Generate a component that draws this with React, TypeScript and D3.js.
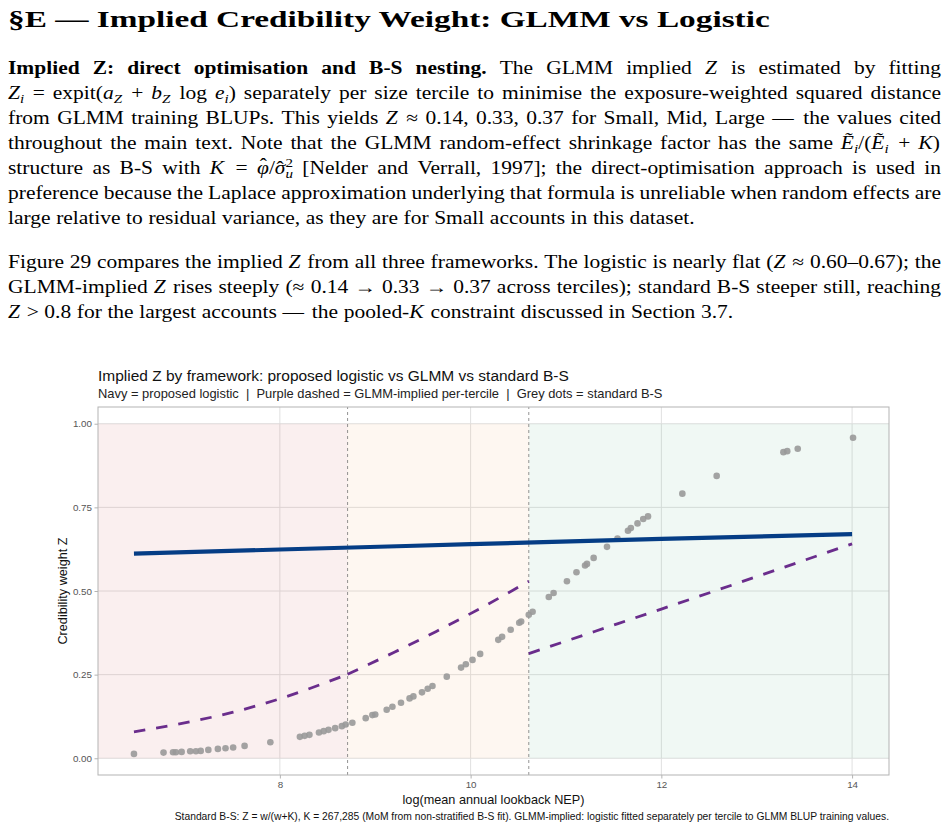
import React, { useRef, useEffect } from 'react';
import * as d3 from 'd3';

const W = 949;
const H = 828;
const SERIF = '"Liberation Serif", "DejaVu Serif", serif';
const SANS = '"Liberation Sans", Arial, sans-serif';

// document text, one string per printed line ({i:..} italic, {b:..} bold, {sub:..}/{sup:..} scripts, {hat:..} accent)
const heading = '§E — Implied Credibility Weight: GLMM vs Logistic';
const para1 = [
  '{b:Implied} {b:Z:} {b:direct} {b:optimisation} {b:and} {b:B-S} {b:nesting.} The GLMM implied {i:Z} is estimated by fitting',
  '{i:Z}{sub:i} = expit({i:a}{sub:Z} + {i:b}{sub:Z} log {i:e}{sub:i}) separately per size tercile to minimise the exposure-weighted squared distance',
  'from GLMM training BLUPs. This yields {i:Z} ≈ 0.14, 0.33, 0.37 for Small, Mid, Large — the values cited',
  'throughout the main text. Note that the GLMM random-effect shrinkage factor has the same {i:Ẽ}{sub:i}/({i:Ẽ}{sub:i} + {i:K})',
  'structure as B-S with {i:K} = {i:φ}{hatT:ˆ}/{i:σ}{hat:ˆ}{sup:2}{subb:u} [Nelder and Verrall, 1997]; the direct-optimisation approach is used in',
  'preference because the Laplace approximation underlying that formula is unreliable when random effects are',
  'large relative to residual variance, as they are for Small accounts in this dataset.',
];
const para2 = [
  'Figure 29 compares the implied {i:Z} from all three frameworks. The logistic is nearly flat ({i:Z} ≈ 0.60–0.67); the',
  'GLMM-implied {i:Z} rises steeply (≈ 0.14 → 0.33 → 0.37 across terciles); standard B-S steeper still, reaching',
  '{i:Z} > 0.8 for the largest accounts — the pooled-{i:K} constraint discussed in Section 3.7.',
];

// chart labels
const chartTitle = 'Implied Z by framework: proposed logistic vs GLMM vs standard B-S';
const chartSubtitle = 'Navy = proposed logistic\u00a0\u00a0|\u00a0\u00a0Purple dashed = GLMM-implied per-tercile\u00a0\u00a0|\u00a0\u00a0Grey dots = standard B-S';
const xTitle = 'log(mean annual lookback NEP)';
const yTitle = 'Credibility weight Z';
const caption = 'Standard B-S: Z = w/(w+K), K = 267,285 (MoM from non-stratified B-S fit). GLMM-implied: logistic fitted separately per tercile to GLMM BLUP training values.';
const xTicks = [8, 10, 12, 14];
const yTicks = [0, 0.25, 0.5, 0.75, 1];

// tercile cut points on log NEP
const tercileCuts = [8.71, 10.61];
const tercileFills = ['rgba(200,80,80,0.09)', 'rgba(240,150,80,0.08)', 'rgba(60,160,110,0.08)'];

// standard B-S implied Z (grey dots)
const bsX = [6.47, 6.78, 6.88, 6.91, 6.97, 7.06, 7.12, 7.17, 7.25, 7.35, 7.43, 7.51, 7.63, 7.9, 8.21, 8.26, 8.31, 8.41, 8.46, 8.51, 8.58, 8.65, 8.69, 8.76, 8.9, 8.97, 9.0, 9.12, 9.18, 9.27, 9.36, 9.4, 9.49, 9.55, 9.6, 9.75, 9.9, 9.95, 10.02, 10.1, 10.29, 10.33, 10.42, 10.51, 10.53, 10.61, 10.65, 10.82, 10.87, 11.01, 11.11, 11.2, 11.22, 11.29, 11.43, 11.54, 11.65, 11.68, 11.75, 11.81, 11.86, 12.22, 12.58, 13.28, 13.32, 13.43, 14.01];
const bsZ = [0.013, 0.017, 0.018, 0.018, 0.019, 0.021, 0.021, 0.022, 0.025, 0.028, 0.03, 0.032, 0.037, 0.048, 0.064, 0.067, 0.07, 0.077, 0.081, 0.085, 0.09, 0.096, 0.101, 0.106, 0.12, 0.129, 0.131, 0.145, 0.154, 0.166, 0.179, 0.185, 0.197, 0.208, 0.216, 0.244, 0.271, 0.281, 0.294, 0.312, 0.354, 0.363, 0.384, 0.405, 0.409, 0.429, 0.438, 0.482, 0.494, 0.529, 0.556, 0.576, 0.581, 0.599, 0.632, 0.657, 0.68, 0.688, 0.702, 0.715, 0.723, 0.791, 0.844, 0.915, 0.918, 0.925, 0.958];

// proposed logistic (navy)
const logitX = [6.47, 8, 10, 12, 14];
const logitZ = [0.612, 0.624, 0.64, 0.656, 0.67];

// GLMM-implied, one curve per tercile (purple dashed)
const glmmSmallX = [6.47, 7.0, 7.5, 8.0, 8.71];
const glmmSmallZ = [0.079, 0.106, 0.137, 0.178, 0.251];
const glmmMidX = [8.71, 9.2, 9.64, 10.1, 10.61];
const glmmMidZ = [0.251, 0.317, 0.379, 0.448, 0.529];
const glmmLargeX = [10.61, 11.3, 12.0, 13.0, 14.0];
const glmmLargeZ = [0.313, 0.379, 0.446, 0.543, 0.641];

const parseWord = (w: string) => {
  const segs: { t: string; k: string }[] = [];
  const re = /\{(\w+):([^}]*)\}|([^{]+)/g;
  let m: RegExpExecArray | null;
  while ((m = re.exec(w))) {
    if (m[3] !== undefined) segs.push({ t: m[3], k: 'r' });
    else segs.push({ t: m[2], k: m[1] });
  }
  return segs;
};

const App = () => {
  const ref = useRef<SVGSVGElement>(null);

  useEffect(() => {
    const svg = d3.select(ref.current);
    svg.selectAll('*').remove();

    // ---------- document text ----------
    const fs = 18;
    const left = 8;
    const right = 941;

    const head = svg.append('text')
      .attr('font-family', SERIF)
      .attr('font-weight', 'bold')
      .attr('font-size', 24)
      .attr('fill', '#000')
      .text(heading);
    const hw = (head.node() as SVGTextElement).getComputedTextLength();
    head.attr('transform', `translate(${left},27) scale(${762 / hw},1)`);

    const drawWord = (g: any, word: string) => {
      const t = g.append('text').attr('font-family', SERIF).attr('font-size', fs).attr('fill', '#000');
      let afterHat = false;
      parseWord(word).forEach(s => {
        const sp = t.append('tspan').text(s.t);
        if (afterHat) { sp.attr('dx', fs * 0.09); afterHat = false; }
        if (s.k === 'i') sp.attr('font-style', 'italic').attr('y', 0);
        else if (s.k === 'b') sp.attr('font-weight', 'bold').attr('y', 0);
        else if (s.k === 'hat' || s.k === 'hatT') {
          sp.attr('dx', -fs * 0.42).attr('y', s.k === 'hatT' ? -fs * 0.14 : -fs * 0.02);
          afterHat = true;
        } else if (s.k === 'sub' || s.k === 'subb') {
          sp.attr('font-style', 'italic').attr('font-size', fs * 0.7).attr('y', fs * 0.24);
          if (s.k === 'subb') sp.attr('dx', -fs * 0.35);
        } else if (s.k === 'sup') sp.attr('font-size', fs * 0.7).attr('y', -fs * 0.38);
        else sp.attr('y', 0);
      });
      return t;
    };

    const blocks = [
      { lines: para1, top: 74 },
      { lines: para2, top: 268 },
    ];
    const laid = blocks.flatMap(b => b.lines.map((line, i) => {
      const g = svg.append('g');
      const nodes = line.split(' ').map(w => drawWord(g, w));
      const widths = nodes.map(n => (n.node() as SVGTextElement).getBBox().width);
      return { nodes, widths, base: b.top + i * 25, last: i === b.lines.length - 1 };
    }));

    // horizontal stretch: the tightest justified line gets natural spaces
    const natGap = fs * 0.28;
    const k = d3.min(laid.filter(l => !l.last), l =>
      (right - left - natGap * (l.widths.length - 1)) / d3.sum(l.widths)) as number;

    laid.forEach(l => {
      const total = d3.sum(l.widths) * k;
      const gap = l.last ? natGap * 1.1 : (right - left - total) / (l.widths.length - 1);
      let x = left;
      l.nodes.forEach((n, i) => {
        n.attr('transform', `translate(${x},${l.base}) scale(${k},1)`);
        x += l.widths[i] * k + gap;
      });
    });

    // ---------- chart ----------
    const x = d3.scaleLinear().domain([6.093, 14.387]).range([98, 889]);
    const y = d3.scaleLinear().domain([-0.05, 1.05]).range([775, 407]);
    const [x0, x1] = x.domain();

    const fitText = (sel: any, target: number) => {
      const w = (sel.node() as SVGTextElement).getComputedTextLength();
      const size = +sel.attr('font-size');
      sel.attr('font-size', (size * target) / w);
    };

    const chart = svg.append('g');
    chart.append('rect')
      .attr('x', x(x0)).attr('y', y(1.05))
      .attr('width', x(x1) - x(x0)).attr('height', y(-0.05) - y(1.05))
      .attr('fill', '#fff');

    chart.append('g').selectAll('line.gy')
      .data(yTicks)
      .join('line')
      .attr('x1', x(x0)).attr('x2', x(x1))
      .attr('y1', d => y(d)).attr('y2', d => y(d))
      .attr('stroke', '#e0e0e0').attr('stroke-width', 1);
    chart.append('g').selectAll('line.gx')
      .data(xTicks)
      .join('line')
      .attr('x1', d => x(d)).attr('x2', d => x(d))
      .attr('y1', y(-0.05)).attr('y2', y(1.05))
      .attr('stroke', '#e0e0e0').attr('stroke-width', 1);

    const bounds = [x0, ...tercileCuts, x1];
    chart.append('g').selectAll('rect')
      .data(tercileFills)
      .join('rect')
      .attr('x', (d, i) => x(bounds[i]))
      .attr('width', (d, i) => x(bounds[i + 1]) - x(bounds[i]))
      .attr('y', y(1))
      .attr('height', y(0) - y(1))
      .attr('fill', d => d);

    chart.append('g').selectAll('line')
      .data(tercileCuts)
      .join('line')
      .attr('x1', d => x(d)).attr('x2', d => x(d))
      .attr('y1', y(-0.05)).attr('y2', y(1.05))
      .attr('stroke', '#777').attr('stroke-width', 0.8)
      .attr('stroke-dasharray', '3,3');

    chart.append('g').selectAll('circle')
      .data(bsX)
      .join('circle')
      .attr('cx', d => x(d))
      .attr('cy', (d, i) => y(bsZ[i]))
      .attr('r', 3.3)
      .attr('fill', '#999')
      .attr('fill-opacity', 0.9);

    const lineGen = d3.line<number>()
      .curve(d3.curveMonotoneX);

    const glmm = [
      [glmmSmallX, glmmSmallZ],
      [glmmMidX, glmmMidZ],
      [glmmLargeX, glmmLargeZ],
    ];
    chart.append('g').selectAll('path')
      .data(glmm)
      .join('path')
      .attr('d', ([xs, zs]) => lineGen.x(d => x(d)).y((d, i) => y(zs[i]))(xs))
      .attr('fill', 'none')
      .attr('stroke', '#6a2d8c')
      .attr('stroke-width', 2.8)
      .attr('stroke-dasharray', '11.5,11');

    chart.append('path')
      .attr('d', lineGen.x(d => x(d)).y((d, i) => y(logitZ[i]))(logitX))
      .attr('fill', 'none')
      .attr('stroke', '#053d85')
      .attr('stroke-width', 4.2);

    chart.append('rect')
      .attr('x', x(x0)).attr('y', y(1.05))
      .attr('width', x(x1) - x(x0)).attr('height', y(-0.05) - y(1.05))
      .attr('fill', 'none').attr('stroke', '#b3b3b3').attr('stroke-width', 1);

    // axes
    const yAxis = chart.append('g').attr('transform', `translate(${x(x0)},0)`)
      .call(d3.axisLeft(y).tickValues(yTicks).tickFormat(d3.format('.2f')).tickSize(3.5).tickPadding(2.5));
    const xAxis = chart.append('g').attr('transform', `translate(0,${y(-0.05)})`)
      .call(d3.axisBottom(x).tickValues(xTicks).tickFormat(d3.format('d')).tickSize(3.5).tickPadding(3));
    [yAxis, xAxis].forEach(a => {
      a.select('.domain').remove();
      a.selectAll('line').attr('stroke', '#b3b3b3');
      a.selectAll('text').attr('font-family', SANS).attr('font-size', 9.8).attr('fill', '#555');
    });

    const t1 = chart.append('text').attr('x', 98).attr('y', 375)
      .attr('dominant-baseline', 'central')
      .attr('font-family', SANS).attr('font-size', 15).attr('fill', '#111').text(chartTitle);
    fitText(t1, 471);
    const t2 = chart.append('text').attr('x', 98).attr('y', 393)
      .attr('dominant-baseline', 'central')
      .attr('font-family', SANS).attr('font-size', 12).attr('fill', '#222').text(chartSubtitle);
    fitText(t2, 565);
    const tx = chart.append('text').attr('x', (x(x0) + x(x1)) / 2).attr('y', 800)
      .attr('dominant-baseline', 'central').attr('text-anchor', 'middle')
      .attr('font-family', SANS).attr('font-size', 12.7).attr('fill', '#111').text(xTitle);
    fitText(tx, 182);
    chart.append('text')
      .attr('transform', `translate(63,${(y(-0.05) + y(1.05)) / 2}) rotate(-90)`)
      .attr('dominant-baseline', 'central').attr('text-anchor', 'middle')
      .attr('font-family', SANS).attr('font-size', 12.7).attr('fill', '#111').text(yTitle);
    const tc = chart.append('text').attr('x', 889).attr('y', 816)
      .attr('dominant-baseline', 'central').attr('text-anchor', 'end')
      .attr('font-family', SANS).attr('font-size', 9).attr('fill', '#111').text(caption);
    fitText(tc, 715);
  }, []);

  return (
    <svg
      ref={ref}
      width={W}
      height={H}
      style={{ position: 'absolute', left: 0, top: 0, display: 'block', background: '#fff' }}
    />
  );
};

export default App;
